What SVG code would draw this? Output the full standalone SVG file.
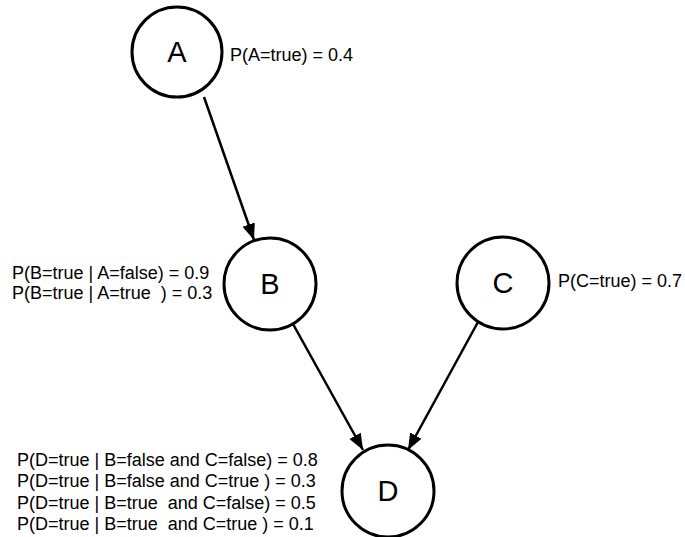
<svg xmlns="http://www.w3.org/2000/svg" width="685" height="537" viewBox="0 0 685 537">
<defs>
<style>
.node circle{fill:#fff;stroke:#000;stroke-width:3}
.node text{font-family:"Liberation Sans",Arial,sans-serif;font-size:29px;text-anchor:middle;fill:#000}
.node text.lbl{font-size:18px;text-anchor:start;white-space:pre}
.edge{stroke:#000;stroke-width:2.5;fill:none;marker-end:url(#arr)}
</style>
<marker id="arr" viewBox="0 0 10 10" refX="10" refY="5" markerWidth="6.5" markerHeight="6.5" orient="auto" markerUnits="strokeWidth">
<path d="M0,1 L10,5 L0,9 z" fill="#000"/>
</marker>
</defs>
<rect width="685" height="537" fill="#fff"/>
<g id="connectors">
<line class="edge" x1="204" y1="97" x2="254" y2="240"/>
<line class="edge" x1="293" y1="324" x2="363" y2="450"/>
<line class="edge" x1="478" y1="322" x2="408" y2="450"/>
</g>
<g id="A" class="node">
<circle cx="177" cy="52" r="45"/>
<text x="177" y="62">A</text>
<text class="lbl" x="230" y="61">P(A=true) = 0.4</text>
</g>
<g id="B" class="node">
<circle cx="270" cy="284" r="46"/>
<text x="270" y="294">B</text>
<text class="lbl" x="12" y="279">P(B=true | A=false) = 0.9</text>
<text class="lbl" x="12" y="299">P(B=true | A=true  ) = 0.3</text>
</g>
<g id="C" class="node">
<circle cx="503" cy="283" r="46"/>
<text x="503" y="293">C</text>
<text class="lbl" x="558" y="287">P(C=true) = 0.7</text>
</g>
<g id="D" class="node">
<circle cx="388" cy="491" r="46"/>
<text x="388" y="501">D</text>
<text class="lbl" x="17" y="466">P(D=true | B=false and C=false) = 0.8</text>
<text class="lbl" x="17" y="487">P(D=true | B=false and C=true ) = 0.3</text>
<text class="lbl" x="17" y="509">P(D=true | B=true  and C=false) = 0.5</text>
<text class="lbl" x="17" y="530">P(D=true | B=true  and C=true ) = 0.1</text>
</g>
</svg>
